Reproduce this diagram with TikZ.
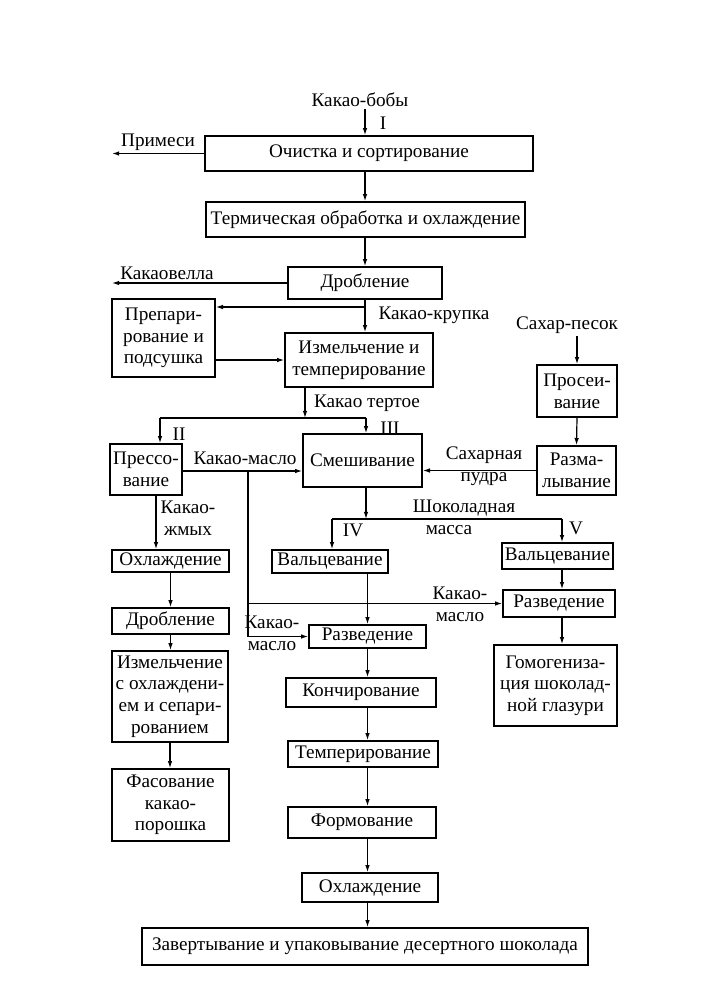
\documentclass[tikz,border=0pt]{standalone}
\usepackage{fontspec}
\setmainfont{Liberation Serif}
\usetikzlibrary{arrows.meta,positioning,calc}
\newcommand{\stagefont}{\fontsize{9.6}{10.8}\selectfont}
\tikzset{
    stage/.style={draw, line width=0.8pt, inner sep=1pt, align=center, font=\stagefont},
    boxsize/.style 2 args={minimum width=#1*0.5pt, minimum height=#2*0.5pt},
    note/.style={inner sep=1pt, align=center, font=\stagefont},
    flow/.style={-{Latex[length=3.6pt,width=2.3pt]}, line width=0.6pt},
    feed/.style={line width=0.6pt},
}

\begin{document}
\begin{tikzpicture}[x=0.5pt,y=-0.5pt]
    \useasboundingbox (0,0) rectangle (709,1002);

    % Main column: beans to nibs
    \node[note] (beans) at (360,100) {Какао-бобы};
    \node[note] (numI) at (383,123) {I};
    \node[stage, boxsize={328}{35}] (clean) at (369,153.5) {Очистка и сортирование};
    \node[stage, boxsize={319}{35}] (heat) at (365.5,219.5) {Термическая обработка и охлаждение};
    \node[stage, boxsize={154}{32}] (crush) at (365,283) {Дробление};
    \node[stage, boxsize={148}{54}] (grind) at (359,360) {Измельчение и\\темперирование};
    \node[stage, boxsize={103}{78}] (prep) at (163.5,338) {Препари-\\рование и\\подсушка};

    % Waste outputs
    \node[note] (impur) at (158,142) {Примеси};
    \coordinate (impurEnd) at (112,153.5);
    \node[note] (shell) at (167,273) {Какаовелла};
    \coordinate (shellEnd) at (112,283);
    \draw[flow] (clean.west) -- (impurEnd);
    \draw[flow] (crush.west) -- (shellEnd);

    \draw[flow] (beans.south -| crush.north) -- (clean.north -| crush.north);
    \draw[flow] (clean.south -| crush.north) -- (heat.north -| crush.north);
    \draw[flow] (heat.south -| crush.north) -- (crush.north);
    \draw[flow] (crush.south) -- (crush.south |- grind.north);
    \coordinate (nib) at (365,307);
    \draw[flow] (nib) -- (nib -| prep.east);
    \node[note] (nibLbl) at (434,315) {Какао-крупка};
    \draw[flow] (prep.east |- grind.west) -- (grind.west);

    % Cocoa liquor split
    \node[note] (liquor) at (367,403) {Какао тертое};
    \coordinate (split) at (305,418);
    \coordinate (splitL) at (160,418);
    \coordinate (splitR) at (366,418);
    \draw[flow] (grind.south -| split) -- (split);
    \draw[feed] (splitL) -- (splitR);
    \node[note] (numII) at (179,434) {II};
    \node[note] (numIII) at (390,428) {III};

    % Pressing and mixing
    \node[stage, boxsize={72}{51}] (press) at (146,469.5) {Прессо-\\вание};
    \node[stage, boxsize={119}{53}] (mix) at (362.5,460.5) {Смешивание};
    \draw[flow] (splitL) -- (splitL |- press.north);
    \draw[flow] (splitR) -- (splitR |- mix.north);

    % Sugar line
    \node[note] (sugar) at (567,325) {Сахар-песок};
    \node[stage, boxsize={80}{52}] (sift) at (577,391) {Просеи-\\вание};
    \node[stage, boxsize={79}{49}] (mill) at (576.5,470.5) {Разма-\\лывание};
    \draw[flow] (sugar.south -| sift.north) -- (sift.north);
    \draw[flow] (sift.south) -- (mill.north);
    \draw[flow] (mill.west) -- (mill.west -| mix.east);
    \node[note] (powder) at (484,466) {Сахарная\\пудра};

    % Cocoa butter
    \coordinate (butTop) at (248,471);
    \node[note] (butLbl) at (245,458) {Какао-масло};
    \draw[flow] (press.east |- butTop) -- (butTop -| mix.west);

    % Chocolate mass split
    \coordinate (massL) at (332,519);
    \coordinate (massR) at (562,519);
    \draw[flow] (mix.south -| splitR) -- (splitR |- massL);
    \draw[feed] (massL) -- (massR);
    \node[note] (choc) at (464,508) {Шоколадная};
    \node[note] (chocMass) at (449,530) {масса};
    \node[note] (numIV) at (353,530) {IV};
    \node[note] (numV) at (576,528) {V};

    % Cocoa powder column
    \node[note] (cake) at (188,518) {Какао-\\жмых};
    \node[stage, boxsize={117}{22}] (coolL) at (170.5,561) {Охлаждение};
    \node[stage, boxsize={117}{26}] (drobL) at (170.5,621) {Дробление};
    \node[stage, boxsize={116}{91}] (grindL) at (170,696.5) {Измельчение\\с охлаждени-\\ем и сепари-\\рованием};
    \node[stage, boxsize={117}{72}] (packL) at (170.5,805) {Фасование\\какао-\\порошка};
    \draw[flow] ([xshift=5pt]press.south) -- ([xshift=5pt]press.south |- coolL.north);
    \draw[flow] (coolL.south) -- (drobL.north);
    \draw[flow] (drobL.south) -- (drobL.south |- grindL.north);
    \draw[flow] (grindL.south) -- (grindL.south |- packL.north);

    % Dessert chocolate column
    \node[stage, boxsize={116}{23}] (rollC) at (330,561.5) {Вальцевание};
    \node[stage, boxsize={117}{23}] (cdil) at (367.5,636.5) {Разведение};
    \node[stage, boxsize={150}{29}] (conch) at (361,692.5) {Кончирование};
    \node[stage, boxsize={150}{26}] (temper) at (363,754) {Темперирование};
    \node[stage, boxsize={148}{31}] (form) at (362,822.5) {Формование};
    \node[stage, boxsize={136}{29}] (coolB) at (370,887.5) {Охлаждение};
    \node[stage, boxsize={446}{37}] (wrap) at (365,946.5) {Завертывание и упаковывание десертного шоколада};
    \draw[flow] (massL) -- (massL |- rollC.north);
    \draw[flow] (cdil.north |- rollC.south) -- (cdil.north);
    \draw[flow] (cdil.south) -- (cdil.south |- conch.north);
    \draw[flow] (conch.south -| cdil.south) -- (temper.north -| cdil.south);
    \draw[flow] (temper.south -| cdil.south) -- (form.north -| cdil.south);
    \draw[flow] (form.south -| cdil.south) -- (coolB.north -| cdil.south);
    \draw[flow] (coolB.south -| cdil.south) -- (wrap.north -| cdil.south);

    % Glaze column
    \node[stage, boxsize={111}{26}] (rollR) at (557.5,556) {Вальцевание};
    \node[stage, boxsize={112}{27}] (rdil) at (559,603.5) {Разведение};
    \node[stage, boxsize={123}{81}] (homog) at (555.5,685.5) {Гомогениза-\\ция шоколад-\\ной глазури};
    \draw[flow] (massR) -- (massR |- rollR.north);
    \draw[flow] (rollR.south -| massR) -- (rdil.north -| massR);
    \draw[flow] (rdil.south -| massR) -- (homog.north -| massR);

    % Cocoa butter feeds to dilution
    \draw[feed] (butTop) -- (butTop |- cdil.west);
    \draw[flow] (butTop |- cdil.west) -- (cdil.west);
    \draw[flow] (butTop |- rdil.west) -- (rdil.west);
    \node[note] (butUp) at (460,604) {Какао-\\масло};
    \node[note] (butLow) at (272,633) {Какао-\\масло};
\end{tikzpicture}
\end{document}
